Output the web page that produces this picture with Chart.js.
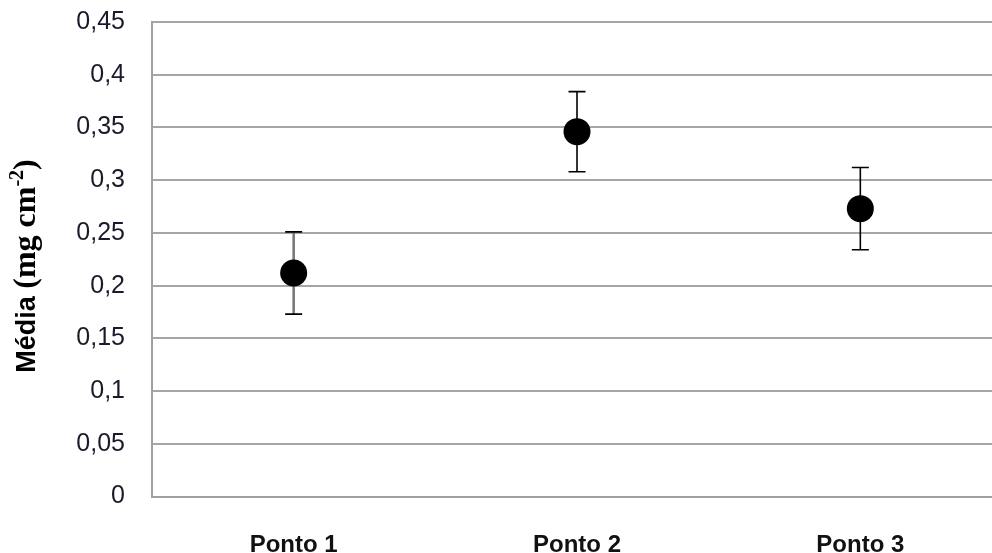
<!DOCTYPE html>
<html>
<head>
<meta charset="utf-8">
<script src="https://cdn.jsdelivr.net/npm/chart.js@4/dist/chart.umd.min.js"></script>
<style>
  html, body { margin: 0; padding: 0; background: #fff; overflow: hidden; }
  #wrap { position: absolute; left: 0; top: 0; width: 1002px; height: 553px; }
</style>
</head>
<body>
<div id="wrap"><canvas id="c" width="1002" height="553"></canvas></div>
<script>
// Sampling points and their mean values with standard deviation
const categories = ['Ponto 1', 'Ponto 2', 'Ponto 3'];
const means = [0.212, 0.346, 0.273];
const deviations = [0.039, 0.038, 0.039];
const yTickLabels = ['0', '0,05', '0,1', '0,15', '0,2', '0,25', '0,3', '0,35', '0,4', '0,45'];

// Vertical error bars with short caps, drawn beneath the markers
const errorBars = {
  id: 'errorBars',
  beforeDatasetsDraw(chart, args, opts) {
    const { ctx } = chart;
    const xs = chart.scales.x, ys = chart.scales.y;
    ctx.save();
    means.forEach((m, i) => {
      const x = xs.getPixelForValue(i);
      const yTop = ys.getPixelForValue(m + deviations[i]);
      const yBot = ys.getPixelForValue(m - deviations[i]);
      ctx.strokeStyle = opts.stemColors[i];
      ctx.lineWidth = opts.stemWidths[i];
      ctx.beginPath();
      ctx.moveTo(x, yTop);
      ctx.lineTo(x, yBot);
      ctx.stroke();
      ctx.strokeStyle = '#000';
      ctx.lineWidth = 1.6;
      ctx.beginPath();
      ctx.moveTo(x - opts.capHalf, yTop);
      ctx.lineTo(x + opts.capHalf, yTop);
      ctx.moveTo(x - opts.capHalf, yBot);
      ctx.lineTo(x + opts.capHalf, yBot);
      ctx.stroke();
    });
    ctx.restore();
  }
};

// Rotated y-axis title mixing a sans and a serif face, with a superscript
const yTitle = {
  id: 'yTitle',
  afterDraw(chart, args, opts) {
    const { ctx } = chart;
    const parts = [
      { t: 'Média ', f: 'bold 27px "Liberation Sans", Arial, sans-serif', dy: 0 },
      { t: '(mg cm', f: 'bold 32px "Liberation Serif", "Times New Roman", serif', dy: 0 },
      { t: '-2', f: 'bold 20px "Liberation Serif", "Times New Roman", serif', dy: -12 },
      { t: ')', f: 'bold 32px "Liberation Serif", "Times New Roman", serif', dy: 0 }
    ];
    ctx.save();
    let total = 0;
    parts.forEach(p => { ctx.font = p.f; p.w = ctx.measureText(p.t).width; total += p.w; });
    ctx.translate(opts.x, opts.y);
    ctx.rotate(-Math.PI / 2);
    ctx.fillStyle = '#000';
    ctx.textBaseline = 'alphabetic';
    ctx.textAlign = 'left';
    let u = -total / 2;
    parts.forEach(p => {
      ctx.font = p.f;
      ctx.fillText(p.t, u, p.dy);
      u += p.w;
    });
    ctx.restore();
  }
};

new Chart(document.getElementById('c'), {
  type: 'line',
  data: {
    labels: categories,
    datasets: [{
      data: means,
      showLine: false,
      pointRadius: 13.5,
      pointHoverRadius: 13.5,
      pointBackgroundColor: '#000',
      pointBorderColor: '#000',
      pointBorderWidth: 0
    }]
  },
  options: {
    responsive: false,
    animation: false,
    devicePixelRatio: 1,
    layout: { autoPadding: false, padding: { top: 22, left: 0, right: 0, bottom: 0 } },
    plugins: {
      legend: { display: false },
      tooltip: { enabled: false },
      errorBars: { capHalf: 8.5, stemColors: ['#7a7a7a', '#000', '#000'], stemWidths: [2.6, 1.6, 1.6] },
      yTitle: { x: 35, y: 266 }
    },
    scales: {
      x: {
        type: 'category',
        offset: true,
        grid: { display: false, drawTicks: false },
        border: { display: true, color: '#a0a0a0', width: 2 },
        ticks: {
          color: '#111',
          padding: 34,
          font: { family: '"Liberation Sans", Arial, sans-serif', size: 24, weight: 'bold' }
        },
        afterFit(scale) {
          scale.height = 56.5;
          scale.paddingLeft = 0;
          scale.paddingRight = 0;
        }
      },
      y: {
        min: 0,
        max: 0.45,
        grid: { color: '#a6a6a6', lineWidth: 2, drawTicks: false },
        border: { display: true, color: '#a0a0a0', width: 2 },
        ticks: {
          stepSize: 0.05,
          padding: 27,
          color: '#1a1a2a',
          font: { family: '"Liberation Sans", Arial, sans-serif', size: 25 },
          callback: (v, i) => yTickLabels[i]
        },
        afterFit(scale) {
          scale.width = 152;
          scale.paddingTop = 0;
          scale.paddingBottom = 0;
        }
      }
    }
  },
  plugins: [errorBars, yTitle]
});
</script>
</body>
</html>
